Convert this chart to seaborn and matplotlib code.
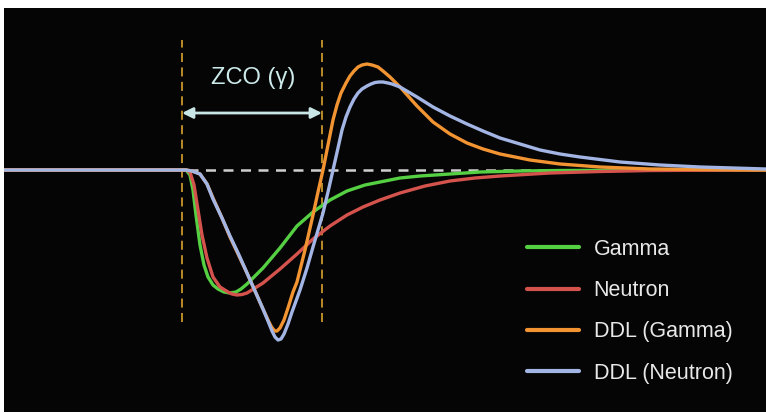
import numpy as np
import pandas as pd
import matplotlib
matplotlib.use("Agg")
import matplotlib.pyplot as plt
import seaborn as sns

# ---- data (time in arbitrary units, amplitude relative to baseline) ----
gamma_t = [4, 186, 190, 193, 196, 200, 204, 208, 213, 218, 224, 230, 236, 241, 247, 263, 280, 297, 313,
           330, 347, 365, 380, 400, 420, 450, 480, 520, 560, 766]
gamma_v = [0, 0, -5, -20, -45, -75, -95, -107, -115, -119, -122, -123, -122, -119, -114, -98, -78, -56,
           -42, -30, -21, -15, -12, -8, -6, -4, -2, -1, -0.5, 0]

neutron_t = [4, 186, 190, 194, 198, 202, 207, 213, 220, 228, 232, 237, 242, 247, 263, 280, 297, 313,
             330, 347, 363, 380, 400, 425, 450, 475, 500, 550, 600, 650, 766]
neutron_v = [0, 0, -2, -15, -40, -65, -88, -107, -117, -122, -124, -125, -124.5, -123, -113, -99, -84,
             -69, -56, -45, -37, -30, -23, -16, -11, -8, -6, -3, -1.5, -0.5, 0]

ddl_gamma_t = [4, 186, 192, 200, 207, 213, 222, 230, 239, 247, 255, 263, 268, 271, 273, 275, 277, 280,
               284, 288, 293, 297, 305, 313, 318, 323, 328, 333, 337, 341, 346, 350, 354, 358, 362, 367,
               372, 378, 383, 390, 400, 417, 433, 450, 467, 483, 500, 530, 560, 600, 650, 700, 766]
ddl_gamma_v = [0, 0, -1, -4, -14, -28, -48, -67, -86, -103, -121, -139, -150, -156, -159, -161, -161,
               -158, -150, -138, -122, -112, -80, -45, -22, 0, 25, 50, 65, 77, 87, 94, 99, 103, 105,
               106, 105, 103, 99, 93, 83, 64, 48, 36, 27, 21, 16, 10, 6, 3, 1, 0.5, 0]

ddl_neutron_t = [4, 186, 192, 200, 207, 213, 222, 230, 239, 247, 255, 263, 268, 272, 275, 278, 281, 284,
                 288, 292, 300, 307, 313, 318, 323, 328, 333, 338, 342, 346, 350, 354, 358, 362, 367,
                 371, 375, 379, 383, 388, 392, 400, 417, 433, 450, 467, 483, 500, 520, 540, 560, 580,
                 620, 660, 700, 766]
ddl_neutron_v = [0, 0, -1, -4, -14, -29, -48, -66, -85, -103, -121, -139, -151, -161, -167, -170, -169,
                 -164, -154, -142, -120, -98, -77, -60, -43, -22, 0, 22, 40, 53, 63, 71, 77, 81, 84,
                 86, 87.5, 88, 88, 87, 86, 83, 73, 63, 54, 46, 39, 32, 26, 20, 16, 13, 8, 5, 3, 1]

series_names = ["Gamma", "Neutron", "DDL (Gamma)", "DDL (Neutron)"]
series_colors = ["#55D043", "#D4534D", "#F29432", "#A3B5E4"]
zco_label = "ZCO (\u03b3)"
zco_start, zco_end = 182, 322

frames = []
for name, t, v in zip(series_names,
                      [gamma_t, neutron_t, ddl_gamma_t, ddl_neutron_t],
                      [gamma_v, neutron_v, ddl_gamma_v, ddl_neutron_v]):
    frames.append(pd.DataFrame({"t": t, "v": v, "series": name}))
df = pd.concat(frames, ignore_index=True)

sns.set_theme(style="dark")
plt.rcParams["font.family"] = ["Liberation Sans", "DejaVu Sans"]

fig = plt.figure(figsize=(7.66, 4.13), dpi=100, facecolor="white")
ax = fig.add_axes([4 / 766, 1 / 413, 762 / 766, 404 / 413])
ax.set_facecolor("#050505")

# baseline and ZCO markers
ax.hlines(0, 188, 766, colors="#CFCFCF", lw=1.8, linestyles=(0, (4, 3)), zorder=1.5)
ax.vlines([zco_start, zco_end], ymin=-152, ymax=130, colors="#C9962A", lw=1.3,
          linestyles=(0, (5, 3)), zorder=1.4)

sns.lineplot(data=df, x="t", y="v", hue="series", hue_order=series_names,
             palette=dict(zip(series_names, series_colors)), estimator=None, sort=False,
             linewidth=2.4, ax=ax, zorder=2)
for ln in ax.get_lines():
    ln.set_solid_joinstyle("round")
    ln.set_solid_capstyle("round")

ax.annotate("", xy=(zco_start, 57), xytext=(zco_end, 57),
            arrowprops=dict(arrowstyle="<|-|>", color="#C8E6E6", lw=2, mutation_scale=16,
                            shrinkA=0, shrinkB=0), zorder=3)
ax.text((zco_start + zco_end) / 2 + 1, 92, zco_label, ha="center", va="center",
        fontsize=17, color="#CDEAEA")

ax.set_xlim(4, 766)
ax.set_ylim(-242, 162)
ax.set_xticks([])
ax.set_yticks([])
ax.set_xlabel("")
ax.set_ylabel("")
for s in ax.spines.values():
    s.set_visible(False)

handles, labels = ax.get_legend_handles_labels()
leg = ax.legend(handles, labels, loc="upper left",
                bbox_to_anchor=(527 / 766, 1 - 239 / 413), bbox_transform=fig.transFigure,
                frameon=False, fontsize=15.5, handlelength=2.4, handletextpad=0.7,
                labelspacing=0.94, borderpad=0, borderaxespad=0)
for txt in leg.get_texts():
    txt.set_color("#E8E8E8")
for line in leg.get_lines():
    line.set_linewidth(3)

fig.savefig("out.png", dpi=100, facecolor="white")
